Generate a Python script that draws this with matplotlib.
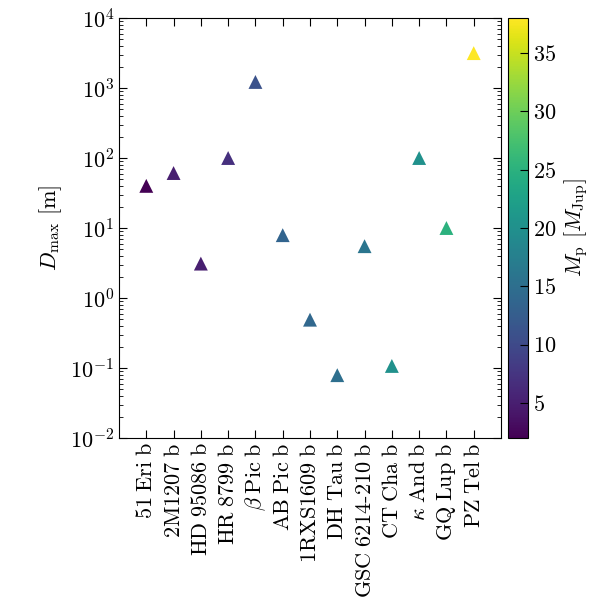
import numpy as np
import matplotlib
matplotlib.use("Agg")
import matplotlib.pyplot as plt

# ─── DATA ────────────────────────────────────────────────────
planets = [r"51$\;$Eri$\;$b", r"2M1207$\;$b", r"HD$\;$95086$\;$b", r"HR$\;$8799$\;$b",
           r"$\beta\;$Pic$\;$b", r"AB$\;$Pic$\;$b", r"1RXS1609$\;$b", r"DH$\;$Tau$\;$b",
           r"GSC$\;$6214-210$\;$b", r"CT$\;$Cha$\;$b", r"$\kappa\;$And$\;$b", r"GQ$\;$Lup$\;$b",
           r"PZ$\;$Tel$\;$b"]
d_max = [40, 61, 3.1, 100, 1220, 7.9, 0.49, 0.079, 5.5, 0.107, 100, 10, 3150]
m_p   = [2, 5, 5, 7, 11, 13.5, 14, 15, 16, 20, 20, 25, 38]

# ─── STYLE ───────────────────────────────────────────────────
plt.rcParams["font.family"] = ["cmr10", "DejaVu Serif"]
plt.rcParams["mathtext.fontset"] = "cm"
plt.rcParams["axes.formatter.use_mathtext"] = True
plt.rcParams["axes.unicode_minus"] = True
FS = 16

fig = plt.figure(figsize=(6, 6), dpi=100)
ax  = fig.add_axes([119/600, 1 - 438/600, 382/600, 420/600])
cax = fig.add_axes([508/600, 1 - 438/600, 20/600, 420/600])

x = np.arange(len(planets))
sc = ax.scatter(x, d_max, c=m_p, cmap="viridis", vmin=2, vmax=38,
                marker="^", s=100, linewidths=0, zorder=3)

ax.set_yscale("log")
ax.set_ylim(1e-2, 1e4)
ax.set_xlim(-1, len(planets))
ax.set_xticks(x)
ax.set_xticklabels(planets, rotation=90, fontsize=FS)
ax.set_ylabel(r"$D_\mathrm{max}$ [m]", fontsize=FS)
ax.tick_params(which="both", direction="in", top=True, right=True)
ax.tick_params(which="major", length=6, labelsize=FS)
ax.tick_params(which="minor", length=3)
ax.tick_params(axis="x", which="minor", bottom=False, top=False)

cb = fig.colorbar(sc, cax=cax)
cb.set_ticks([5, 10, 15, 20, 25, 30, 35])
cb.ax.tick_params(direction="in", length=6, labelsize=FS)
cb.set_label(r"$M_\mathrm{p}$ [$M_\mathrm{Jup}$]", fontsize=FS)

fig.savefig("out.png", dpi=100)
